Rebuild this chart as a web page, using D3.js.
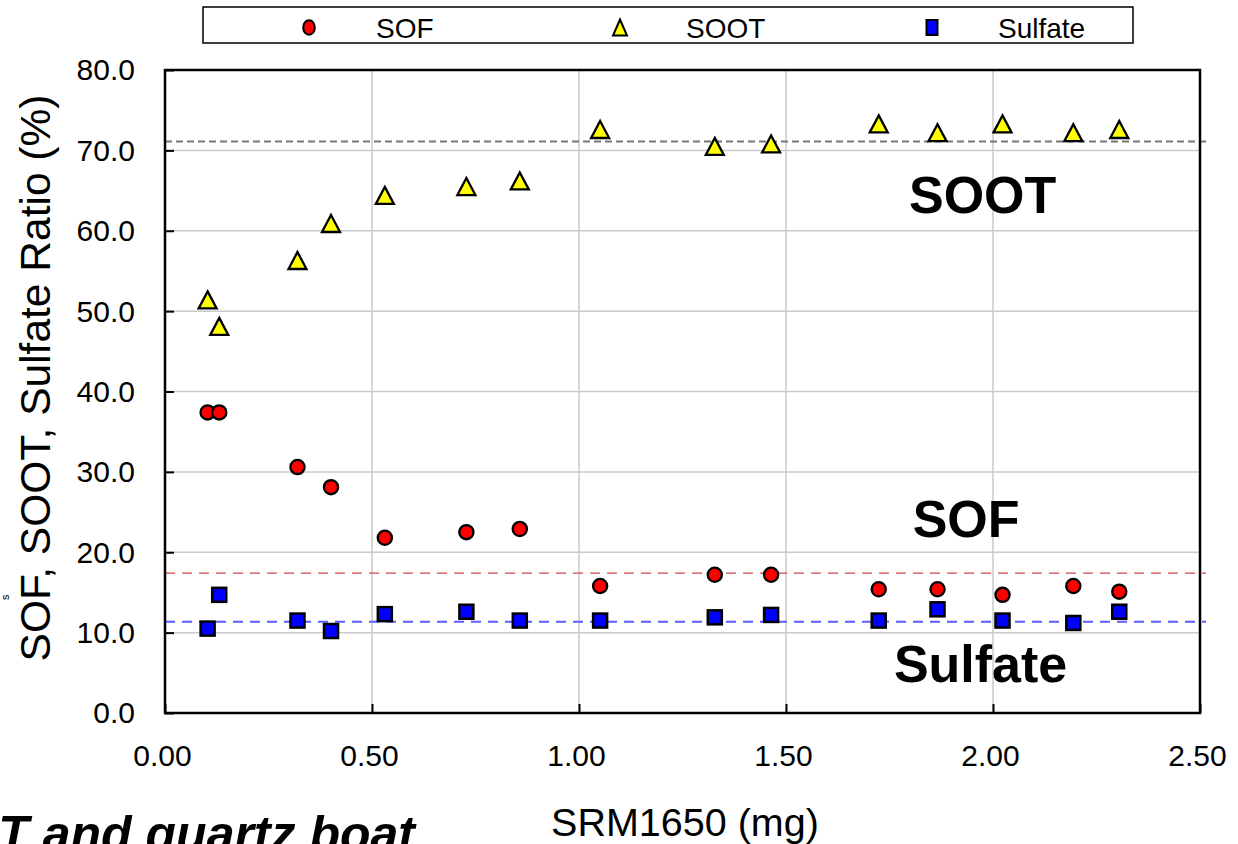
<!DOCTYPE html>
<html>
<head>
<meta charset="utf-8">
<script src="https://cdn.jsdelivr.net/npm/d3@7"></script>
<style>
  html, body { margin: 0; padding: 0; background: #fff; }
  svg { display: block; font-family: "Liberation Sans", Arial, sans-serif; }
</style>
</head>
<body>
<svg id="chart" width="1238" height="844"></svg>
<script>
// SRM1650 sample mass (mg) for each run
const mass = [0.103, 0.131, 0.320, 0.401, 0.531, 0.728, 0.857, 1.051, 1.328, 1.464, 1.724, 1.866, 2.023, 2.194, 2.305];
// Composition ratios (%)
const sof     = [37.4, 37.4, 30.6, 28.1, 21.8, 22.5, 22.9, 15.8, 17.2, 17.2, 15.4, 15.4, 14.7, 15.8, 15.1];
const soot    = [51.4, 48.1, 56.3, 60.9, 64.4, 65.5, 66.2, 72.6, 70.5, 70.8, 73.3, 72.2, 73.3, 72.2, 72.6];
const sulfate = [10.5, 14.7, 11.5, 10.2, 12.3, 12.6, 11.5, 11.5, 11.9, 12.2, 11.5, 12.9, 11.5, 11.2, 12.6];
// Mean levels drawn as dashed reference lines
const refLevels = [71.1, 17.4, 11.35];
const refColors = ["#777777", "#d04848", "#5c5cff"];
// Axis ticks
const xTicks = [0, 0.5, 1.0, 1.5, 2.0, 2.5];
const yTicks = [0, 10, 20, 30, 40, 50, 60, 70, 80];
const seriesNames = ["SOF", "SOOT", "Sulfate"];

const svg = d3.select("#chart");
const L = 165, R = 1200, T = 70, B = 713;
const x = d3.scaleLinear().domain([0, 2.5]).range([L, R]);
const y = d3.scaleLinear().domain([0, 80]).range([B, T]);

// Gridlines
svg.append("g").selectAll("line").data(yTicks).join("line")
  .attr("x1", L).attr("x2", R).attr("y1", d => y(d)).attr("y2", d => y(d))
  .attr("stroke", "#cacaca").attr("stroke-width", 1.5);
svg.append("g").selectAll("line").data(xTicks).join("line")
  .attr("y1", T).attr("y2", B).attr("x1", d => x(d)).attr("x2", d => x(d))
  .attr("stroke", "#cacaca").attr("stroke-width", 1.5);

// Axes with inward ticks
const yAxis = d3.axisLeft(y).tickValues(yTicks).tickSize(-9).tickPadding(30).tickFormat(d3.format(".1f"));
const xAxis = d3.axisBottom(x).tickValues(xTicks).tickSize(-9).tickPadding(30).tickFormat(d3.format(".2f"));
const gy = svg.append("g").attr("transform", `translate(${L},0)`).call(yAxis);
const gx = svg.append("g").attr("transform", `translate(0,${B})`).call(xAxis);
[gy, gx].forEach(g => {
  g.select(".domain").remove();
  g.selectAll(".tick line").attr("stroke", "#000").attr("stroke-width", 2);
  g.selectAll(".tick text").attr("fill", "#000").style("font-size", "30px")
    .style("font-family", "'Liberation Sans', Arial, sans-serif");
});
gy.selectAll(".tick text").attr("x", -30).attr("dy", "0.33em");
gx.selectAll(".tick text").attr("x", -3).attr("y", 53).attr("dy", 0);

// Dashed reference lines
svg.append("g").selectAll("line").data(refLevels).join("line")
  .attr("x1", L).attr("x2", R + 6)
  .attr("y1", d => y(d)).attr("y2", d => y(d))
  .attr("stroke", (d, i) => refColors[i])
  .attr("stroke-width", (d, i) => i === 1 ? 1.3 : 1.9)
  .attr("stroke-dasharray", (d, i) => i === 0 ? "7,4" : "10,7");

// Plot frame
svg.append("rect").attr("x", L).attr("y", T).attr("width", R - L).attr("height", B - T)
  .attr("fill", "none").attr("stroke", "#000").attr("stroke-width", 2.5);

// Marker shapes
function triPath(w, h) { return `M0,${-h/2}L${w/2},${h/2}L${-w/2},${h/2}Z`; }

const pts = (vals) => mass.map((m, i) => ({ m, v: vals[i] }));

svg.append("g").selectAll("path").data(pts(soot)).join("path")
  .attr("d", triPath(18, 17))
  .attr("transform", d => `translate(${x(d.m)},${y(d.v)})`)
  .attr("fill", "#ffff00").attr("stroke", "#000").attr("stroke-width", 2.3).attr("stroke-linejoin", "miter");

svg.append("g").selectAll("circle").data(pts(sof)).join("circle")
  .attr("cx", d => x(d.m)).attr("cy", d => y(d.v)).attr("r", 7.1)
  .attr("fill", "#ff0000").attr("stroke", "#000").attr("stroke-width", 2.3);

svg.append("g").selectAll("rect").data(pts(sulfate)).join("rect")
  .attr("x", d => x(d.m) - 7).attr("y", d => y(d.v) - 7)
  .attr("width", 14).attr("height", 14)
  .attr("fill", "#0000ff").attr("stroke", "#000").attr("stroke-width", 2.5);

// In-plot series labels
const lbl = [
  { t: "SOOT", xv: 1.975, yv: 62.2 },
  { t: "SOF", xv: 1.935, yv: 21.9 },
  { t: "Sulfate", xv: 1.97, yv: 3.85 }
];
svg.append("g").selectAll("text").data(lbl).join("text")
  .attr("x", d => x(d.xv)).attr("y", d => y(d.yv))
  .attr("text-anchor", "middle")
  .style("font-size", "52px").style("font-weight", "bold")
  .text(d => d.t);

// Axis titles
svg.append("text").attr("x", 685).attr("y", 836)
  .attr("text-anchor", "middle").style("font-size", "39.5px").text("SRM1650 (mg)");
svg.append("text")
  .attr("transform", `translate(50,${378}) rotate(-90)`)
  .attr("text-anchor", "middle").style("font-size", "42.5px")
  .text("SOF, SOOT, Sulfate Ratio (%)");

// Legend
const lg = svg.append("g");
lg.append("rect").attr("x", 203).attr("y", 7).attr("width", 930).attr("height", 36)
  .attr("fill", "#fff").attr("stroke", "#000").attr("stroke-width", 1.5);
const legX = [309, 620, 932];
const legTX = [376, 686, 998];
legX.forEach((lx, i) => {
  if (i === 0) {
    lg.append("ellipse").attr("cx", lx).attr("cy", 27.5).attr("rx", 5.8).attr("ry", 7.2)
      .attr("fill", "#ff0000").attr("stroke", "#000").attr("stroke-width", 2);
  } else if (i === 1) {
    lg.append("path").attr("d", triPath(14, 16)).attr("transform", `translate(${lx},27.5)`)
      .attr("fill", "#ffff00").attr("stroke", "#000").attr("stroke-width", 2);
  } else {
    lg.append("rect").attr("x", lx - 5.5).attr("y", 20).attr("width", 11).attr("height", 15)
      .attr("fill", "#0000ff").attr("stroke", "#000").attr("stroke-width", 2);
  }
  lg.append("text").attr("x", legTX[i]).attr("y", 38)
    .style("font-size", "28px").text(seriesNames[i]);
});

// Caption fragment at the lower left edge
svg.append("text").attr("x", 415).attr("y", 851).attr("text-anchor", "end")
  .style("font-size", "50px").style("font-weight", "bold").style("font-style", "italic")
  .text("SOOT and quartz boat");
svg.append("text").attr("transform", "translate(9,600) rotate(-90)")
  .style("font-size", "11px").text("s");
</script>
</body>
</html>
